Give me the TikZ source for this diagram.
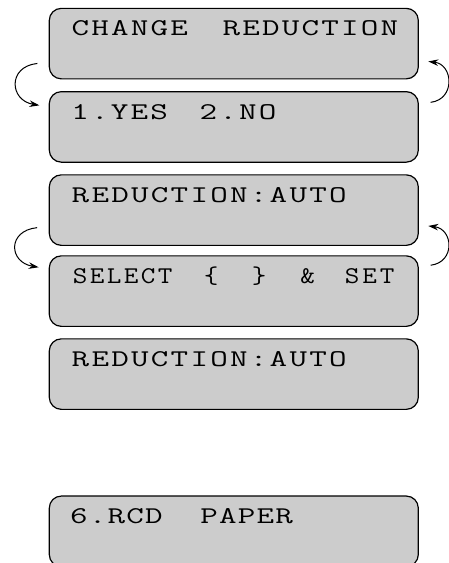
\documentclass[tikz,border=0pt]{standalone}
\usepackage{fontspec}
\usetikzlibrary{arrows.meta,calc}
\newlength\lcdpitch
\def\lcdsx{1.4}
\def\lcdrun#1{\ifx#1\relax\else\makebox[\lcdpitch][c]{\scalebox{\lcdsx}[1]{#1}}\expandafter\lcdrun\fi}
% \lcdword{offset}{pitch}{letters}
\newcommand\lcdword[3]{\makebox[0pt][l]{\hspace*{#1pt}\setlength\lcdpitch{#2pt}\lcdrun#3\relax}}
\definecolor{lcdgray}{RGB}{204,204,204}
\begin{document}
\begin{tikzpicture}[x=1pt,y=-1pt,
  lcdbox/.style={draw=black, line width=1.2pt, fill=lcdgray, rounded corners=12pt,
    minimum width=369pt, minimum height=70.5pt, inner sep=0pt},
  lcdtext/.style={anchor=base west, inner sep=0pt, font=\fontsize{24}{27}\ttfamily\def\lcdsx{1.42}},
  lcdtextn/.style={anchor=base west, inner sep=0pt, font=\fontsize{24}{27}\ttfamily\def\lcdsx{1.18}},
  turn/.style={line width=1pt, -{Stealth[length=10pt,width=6.5pt]}}]
\useasboundingbox (0,0) rectangle (449,563);
\clip (0,0) rectangle (449,563);
\node[lcdbox] (b1) at (233.8,43.6) {};
\node[lcdbox] (b2) at (233.8,126.9) {};
\node[lcdbox] (b3) at (233.8,210.1) {};
\node[lcdbox] (b4) at (233.8,291.1) {};
\node[lcdbox] (b5) at (233.8,374.1) {};
\node[lcdbox] (b6) at (233.8,531.3) {};
\node[lcdtext] (t1) at (60,35.6) {\makebox[340pt][l]{\lcdword{10.4}{19.75}{CHANGE}\lcdword{161.4}{19.75}{REDUCTION}}};
\node[lcdtext] (t2) at (60,119) {\makebox[340pt][l]{\lcdword{10.1}{19.75}{1.YES}\lcdword{138.4}{19.75}{2.NO}}};
\node[lcdtext] (t3) at (60,202.2) {\makebox[340pt][l]{\lcdword{10.4}{19.8}{REDUCTION:AUTO}}};
\node[lcdtextn] (t4) at (60,283.3) {\makebox[340pt][l]{\lcdword{11.5}{17}{SELECT}\lcdword{142.5}{17}{\{}\lcdword{190.5}{17}{\}}\lcdword{239}{17}{\&}\lcdword{283.2}{17.5}{SET}}};
\node[lcdtext] (t5) at (60,366.2) {\makebox[340pt][l]{\lcdword{10.4}{19.8}{REDUCTION:AUTO}}};
\node[lcdtext] (t6) at (60,523.3) {\makebox[340pt][l]{\lcdword{9.4}{18.75}{6.RCD}\lcdword{139.6}{18.75}{PAPER}}};
% loops between screens
\draw[turn] ($(b1.south west)+(-11.3,-16)$) .. controls +(-30,3) and +(-30,-5) .. ($(b2.north west)+(-9.3,14.3)$);
\draw[turn] ($(b2.north east)+(11.7,11.3)$) .. controls +(25,-3) and +(25,3) .. ($(b1.south east)+(9.4,-18)$);
\draw[turn] ($(b3.south west)+(-11.6,-18.3)$) .. controls +(-30,3) and +(-30,-5) .. ($(b4.north west)+(-10,12)$);
\draw[turn] ($(b4.north east)+(11.7,10)$) .. controls +(25,-3) and +(25,3) .. ($(b3.south east)+(9.4,-20)$);
\end{tikzpicture}
\end{document}
